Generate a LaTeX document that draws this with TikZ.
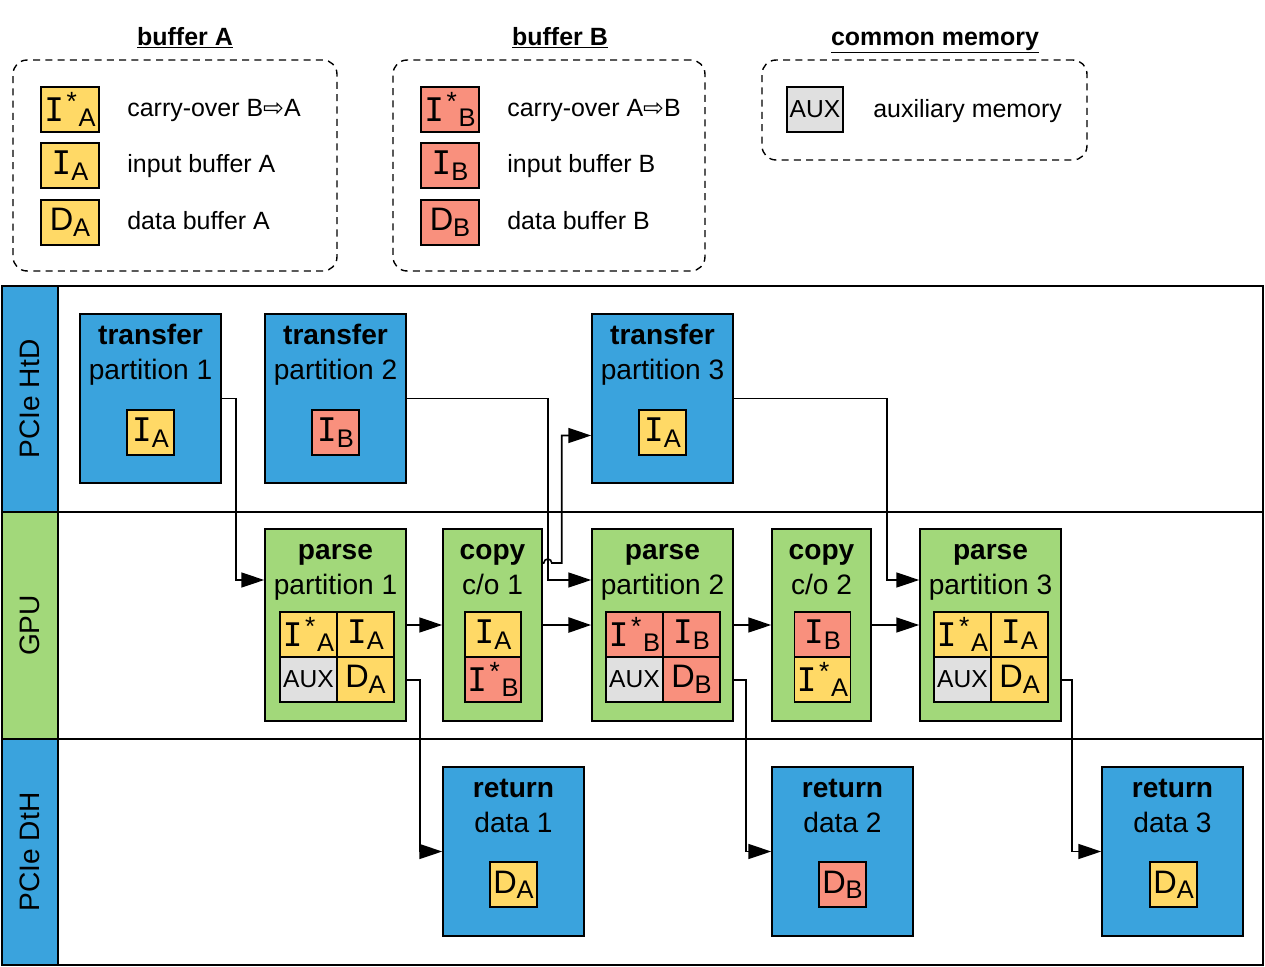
\documentclass[tikz,border=0pt]{standalone}
\usepackage{fontspec}
\setmainfont{Liberation Sans}
\newfontfamily\monofont{DejaVu Sans Mono}
\newfontfamily\symfont{DejaVu Sans}
\usepackage{xcolor}
\usetikzlibrary{arrows,shapes,positioning,fit,arrows.meta,backgrounds,calc}

\definecolor{laneblue}{RGB}{58,163,221}
\definecolor{lanegreen}{RGB}{162,216,122}
\definecolor{bufa}{RGB}{255,217,102}
\definecolor{bufb}{RGB}{249,144,125}
\definecolor{auxgray}{RGB}{224,224,224}

\newcommand{\chipsub}[1]{{\fontsize{14.5}{14}\selectfont\raisebox{-0.4ex}{#1}}}
\newcommand{\bufI}[1]{{\monofont\fontsize{18.5}{18}\selectfont I}\chipsub{#1}}
\newcommand{\bufIs}[1]{{\monofont\fontsize{18.5}{18}\selectfont I}{\fontsize{15}{15}\selectfont\hspace{1.5pt}\raisebox{0.75ex}{*}\hspace{1pt}}\chipsub{#1}}
\newcommand{\bufD}[1]{{\fontsize{18.5}{18}\selectfont D}\chipsub{#1}}
\newcommand{\auxtxt}{{\fontsize{14}{14}\selectfont AUX}}
\newcommand{\boxhead}[2]{\textbf{#1}\vphantom{Tf}\\#2}

\begin{document}
\begin{tikzpicture}[x=0.02cm,y=-0.02cm,
  title/.style={anchor=base,font=\fontsize{14.2}{17}\selectfont\bfseries},
  legtext/.style={anchor=base west,inner sep=0pt,font=\fontsize{14.2}{17}\selectfont},
  legendbox/.style={draw,dashed,dash pattern=on 4pt off 3pt,rounded corners=8pt,line width=0.8pt},
  stage/.style={draw,line width=0.9pt,minimum width=2.82cm},
  boxtitle/.style={align=center,inner sep=0pt,font=\fontsize{16}{19.8}\selectfont},
  chip/.style={draw,line width=0.8pt,inner sep=0pt,minimum width=0.94cm,minimum height=0.9cm},
  cell/.style={chip,minimum width=1.14cm},
  lanelabel/.style={draw,line width=0.9pt,rotate=90,minimum width=4.52cm,minimum height=1.12cm,font=\fontsize{16}{19}\selectfont},
  flow/.style={draw,line width=0.9pt,-{Triangle[length=13pt,width=8.5pt]}}]
\useasboundingbox (0,0) rectangle (1265,967);

% legend
\node[title] (ta) at (185,45) {\underline{buffer A}};
\node[title] (tb) at (560,45) {\underline{buffer B}};
\node[title] (tc) at (935,45) {\underline{common memory}};
\node[legendbox,minimum width=6.48cm,minimum height=4.22cm] (lega) at (175,165.5) {};
\node[legendbox,minimum width=6.24cm,minimum height=4.22cm] (legb) at (549,165.5) {};
\node[legendbox,minimum width=6.5cm,minimum height=2cm] (legc) at (924.5,110) {};

\node[chip,fill=bufa,minimum width=1.16cm] (la1) at (70,109.5) {\bufIs{A}};
\node[chip,fill=bufa,minimum width=1.16cm] (la2) at (70,165.5) {\bufI{A}};
\node[chip,fill=bufa,minimum width=1.16cm] (la3) at (70,222.5) {\bufD{A}};
\node[legtext] (la1t) at (127,116) {carry-over B{\symfont ⇨}A};
\node[legtext] (la2t) at (127,172) {input buffer A};
\node[legtext] (la3t) at (127,229) {data buffer A};

\node[chip,fill=bufb,minimum width=1.16cm] (lb1) at (450,109.5) {\bufIs{B}};
\node[chip,fill=bufb,minimum width=1.16cm] (lb2) at (450,165.5) {\bufI{B}};
\node[chip,fill=bufb,minimum width=1.16cm] (lb3) at (450,222.5) {\bufD{B}};
\node[legtext] (lb1t) at (507,116) {carry-over A{\symfont ⇨}B};
\node[legtext] (lb2t) at (507,172) {input buffer B};
\node[legtext] (lb3t) at (507,229) {data buffer B};

\node[chip,fill=auxgray,minimum width=1.12cm] (lc1) at (815,109.5) {\auxtxt};
\node[legtext] (lc1t) at (873,117) {auxiliary memory};

% lanes
\draw[line width=0.9pt] (2,286) rectangle (1263,965);
\draw[line width=0.9pt] (2,512) -- (1263,512);
\draw[line width=0.9pt] (2,739) -- (1263,739);
\node[lanelabel,fill=laneblue] (htd) at (30,399) {PCIe HtD};
\node[lanelabel,fill=lanegreen,minimum width=4.54cm] (gpu) at (30,625.5) {GPU};
\node[lanelabel,fill=laneblue] (dth) at (30,852) {PCIe DtH};

% HtD
\node[stage,fill=laneblue,minimum height=3.38cm] (t1) at (150.5,398.5) {};
\node[stage,fill=laneblue,minimum height=3.38cm] (t2) at (335.5,398.5) {};
\node[stage,fill=laneblue,minimum height=3.38cm] (t3) at (662.5,398.5) {};
\node[boxtitle,below=6pt of t1.north] (t1l) {\boxhead{transfer}{partition 1}};
\node[boxtitle,below=6pt of t2.north] (t2l) {\boxhead{transfer}{partition 2}};
\node[boxtitle,below=6pt of t3.north] (t3l) {\boxhead{transfer}{partition 3}};
\node[chip,fill=bufa] (t1a) at (150.5,432.5) {\bufI{A}};
\node[chip,fill=bufb] (t2a) at (335.5,432.5) {\bufI{B}};
\node[chip,fill=bufa] (t3a) at (662.5,432.5) {\bufI{A}};

% GPU
\node[stage,fill=lanegreen,minimum height=3.84cm] (p1) at (335.5,625) {};
\node[stage,fill=lanegreen,minimum height=3.84cm,minimum width=1.98cm] (c1) at (492.5,625) {};
\node[stage,fill=lanegreen,minimum height=3.84cm] (p2) at (662.5,625) {};
\node[stage,fill=lanegreen,minimum height=3.84cm,minimum width=1.98cm] (c2) at (821.5,625) {};
\node[stage,fill=lanegreen,minimum height=3.84cm] (p3) at (990.5,625) {};
\node[boxtitle,below=6pt of p1.north] (p1l) {\boxhead{parse}{partition 1}};
\node[boxtitle,below=6pt of c1.north] (c1l) {\boxhead{copy}{c/o 1}};
\node[boxtitle,below=6pt of p2.north] (p2l) {\boxhead{parse}{partition 2}};
\node[boxtitle,below=6pt of c2.north] (c2l) {\boxhead{copy}{c/o 2}};
\node[boxtitle,below=6pt of p3.north] (p3l) {\boxhead{parse}{partition 3}};

\node[cell,fill=bufa] (p1a) at (308.5,634.5) {\bufIs{A}};
\node[cell,fill=bufa] (p1b) at (365.5,634.5) {\bufI{A}};
\node[cell,fill=auxgray] (p1c) at (308.5,679.5) {\auxtxt};
\node[cell,fill=bufa] (p1d) at (365.5,679.5) {\bufD{A}};

\node[chip,fill=bufa,minimum width=1.12cm] (c1a) at (493,634.5) {\bufI{A}};
\node[chip,fill=bufb,minimum width=1.12cm] (c1b) at (493,679.5) {\bufIs{B}};

\node[cell,fill=bufb] (p2a) at (634.5,634.5) {\bufIs{B}};
\node[cell,fill=bufb] (p2b) at (691.5,634.5) {\bufI{B}};
\node[cell,fill=auxgray] (p2c) at (634.5,679.5) {\auxtxt};
\node[cell,fill=bufb] (p2d) at (691.5,679.5) {\bufD{B}};

\node[chip,fill=bufb,minimum width=1.12cm] (c2a) at (822.5,634.5) {\bufI{B}};
\node[chip,fill=bufa,minimum width=1.12cm] (c2b) at (822.5,679.5) {\bufIs{A}};

\node[cell,fill=bufa] (p3a) at (962.5,634.5) {\bufIs{A}};
\node[cell,fill=bufa] (p3b) at (1019.5,634.5) {\bufI{A}};
\node[cell,fill=auxgray] (p3c) at (962.5,679.5) {\auxtxt};
\node[cell,fill=bufa] (p3d) at (1019.5,679.5) {\bufD{A}};

% DtH
\node[stage,fill=laneblue,minimum height=3.38cm] (r1) at (513.5,851.5) {};
\node[stage,fill=laneblue,minimum height=3.38cm] (r2) at (842.5,851.5) {};
\node[stage,fill=laneblue,minimum height=3.38cm] (r3) at (1172.5,851.5) {};
\node[boxtitle,below=6pt of r1.north] (r1l) {\boxhead{return}{data 1}};
\node[boxtitle,below=6pt of r2.north] (r2l) {\boxhead{return}{data 2}};
\node[boxtitle,below=6pt of r3.north] (r3l) {\boxhead{return}{data 3}};
\node[chip,fill=bufa] (r1a) at (513.5,884.5) {\bufD{A}};
\node[chip,fill=bufb] (r2a) at (842.5,884.5) {\bufD{B}};
\node[chip,fill=bufa] (r3a) at (1173.5,884.5) {\bufD{A}};

% transfers in
\draw[flow] (t1.east) -- ++(14,0) |- ($(p1.west)+(0,-45)$);
\draw[flow] (t2.east) -- ++(141,0) |- ($(p2.west)+(0,-45)$);
\draw[flow] (t3.east) -- ++(153,0) |- ($(p3.west)+(0,-45)$);

% kernel chain
\draw[flow] (p1) -- (c1);
\draw[flow,line width=1.6pt] (c1) -- (p2);
\draw[flow] (p2) -- (c2);
\draw[flow] (c2) -- (p3);
\draw[flow] ($(c1.east)+(0,-62)$) -- ++(1,0) arc[start angle=180,end angle=360,radius=4]
  -- ++(10,0) |- ($(t3.west)+(0,37)$);

% results out
\draw[flow] ($(p1.east)+(0,55)$) -- ++(13,0) |- (r1.west);
\draw[flow] ($(p2.east)+(0,55)$) -- ++(12,0) |- (r2.west);
\draw[flow] ($(p3.east)+(0,55)$) -- ++(10,0) |- (r3.west);
\end{tikzpicture}
\end{document}
